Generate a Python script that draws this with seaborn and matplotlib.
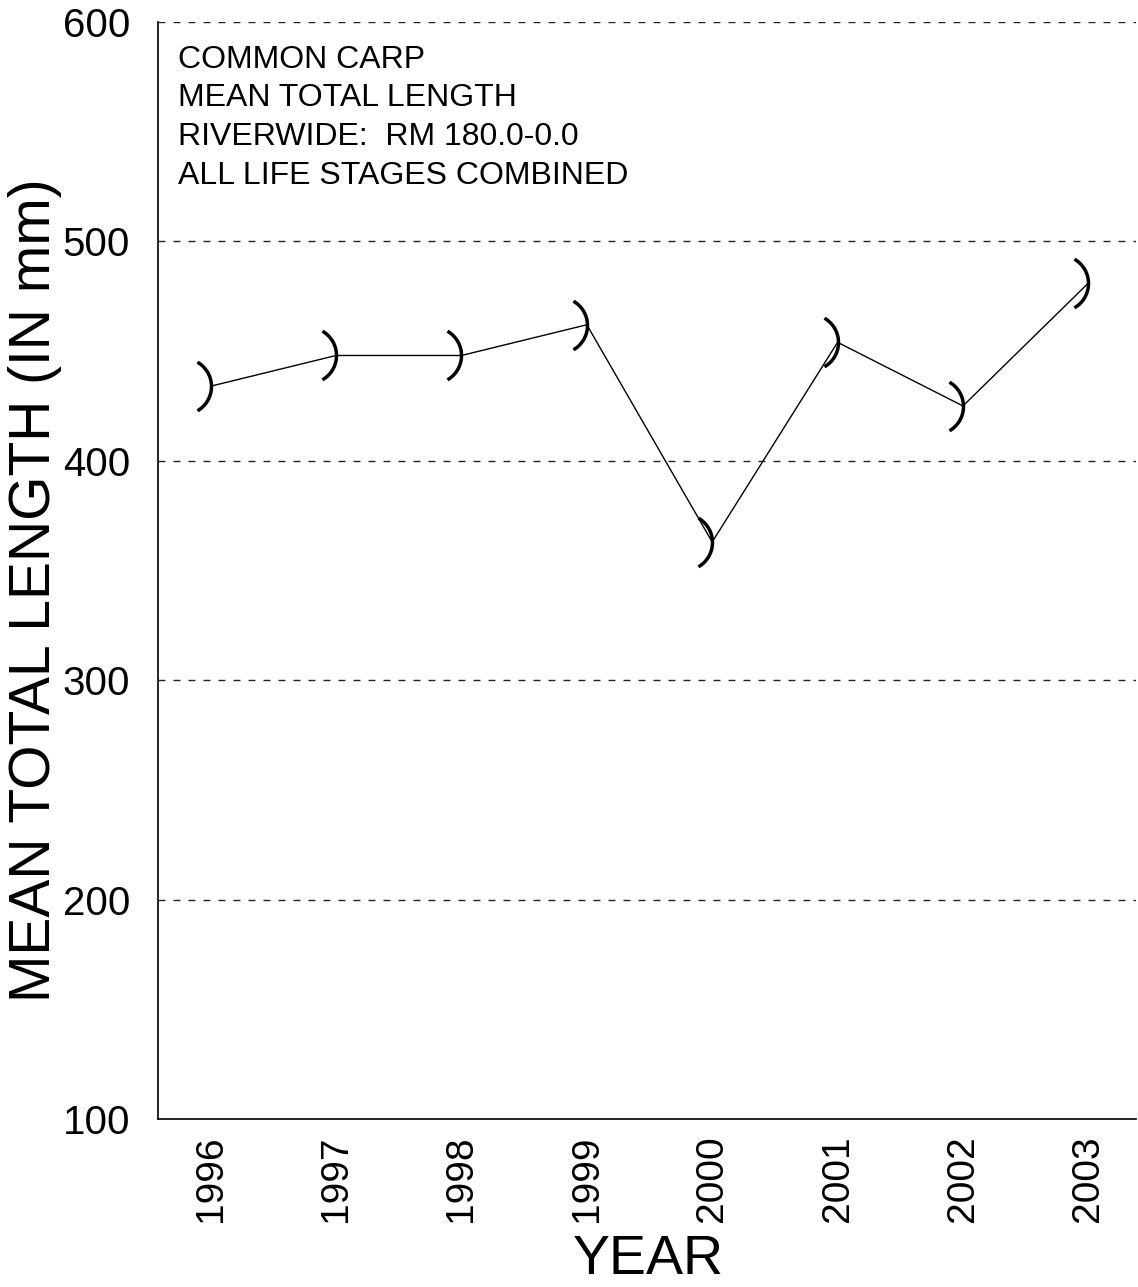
import matplotlib
matplotlib.use("Agg")
import matplotlib.pyplot as plt
import seaborn as sns
import pandas as pd
import numpy as np
from matplotlib.path import Path

years = [1996, 1997, 1998, 1999, 2000, 2001, 2002, 2003]
mean_length = [434, 448, 448, 462, 363, 454, 425, 481]
y_ticks = [100, 200, 300, 400, 500, 600]
info_lines = ["COMMON CARP", "MEAN TOTAL LENGTH", "RIVERWIDE:  RM 180.0-0.0", "ALL LIFE STAGES COMBINED"]

sns.set_style("white")
plt.rcParams['font.family'] = ['Liberation Sans', 'DejaVu Sans']
for k in ["text.color", "axes.labelcolor", "xtick.color", "ytick.color"]:
    plt.rcParams[k] = "black"

df = pd.DataFrame({"year": years, "length": mean_length})

# arc-shaped marker ")" with its apex at the data point
th = np.radians(np.linspace(-60, 60, 40))
arc = Path(np.column_stack([np.cos(th) - 1, np.sin(th)]))

fig = plt.figure(figsize=(11.38, 12.87), dpi=100)
ax = fig.add_axes([158/1138, 1 - 1119/1287, (1136-158)/1138, (1119-22)/1287])

sns.lineplot(data=df, x="year", y="length", ax=ax, color="black", linewidth=1,
             marker=arc, markersize=35, markeredgewidth=2.5, markerfacecolor="none",
             markeredgecolor="black")

ax.set_xlim(1995.58, 2003.38)
ax.set_ylim(100, 600)
ax.set_yticks(y_ticks)
ax.set_xticks(years)
ax.set_xticklabels([str(y) for y in years], rotation=90, fontsize=28)
ax.set_yticklabels([str(t) for t in y_ticks], fontsize=29)
ax.tick_params(length=0)
ax.tick_params(axis="y", pad=20)
ax.tick_params(axis="x", pad=12)

for t in [200, 300, 400, 500, 600]:
    ax.axhline(t, color="#222222", linestyle=(0, (5, 5.8)), linewidth=1, zorder=0)

for s in ["top", "right"]:
    ax.spines[s].set_visible(False)
for s in ["left", "bottom"]:
    ax.spines[s].set_color("black")
    ax.spines[s].set_linewidth(1.2)

ax.set_xlabel("YEAR", fontsize=40)
ax.xaxis.set_label_coords((648-158)/978, -(1286-1119)/1097)
ax.xaxis.label.set_va("bottom")
ax.set_ylabel("MEAN TOTAL LENGTH (IN mm)", fontsize=41)
ax.yaxis.set_label_coords((8-158)/978, (1119-590)/1097)
ax.yaxis.label.set_va("top")

for i, line in enumerate(info_lines):
    ax.text(20/978, 1 - (38 + 38.5*i)/1097, line, transform=ax.transAxes,
            fontsize=23, va="center", ha="left")

fig.savefig("out.png", dpi=100)
